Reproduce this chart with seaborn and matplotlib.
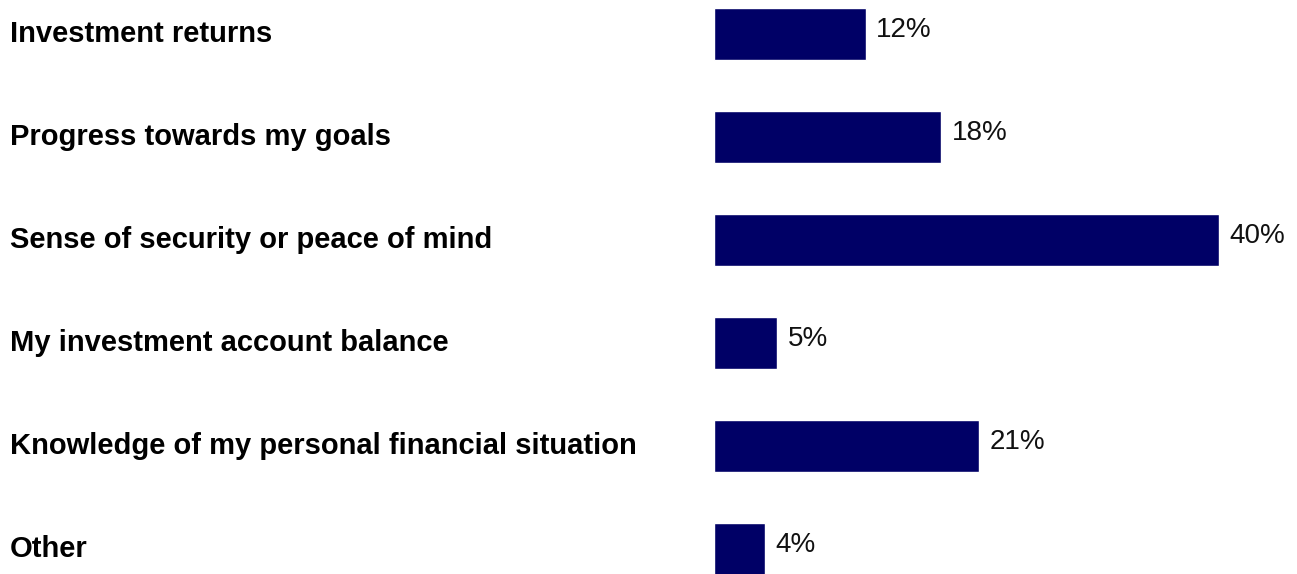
import matplotlib
matplotlib.use("Agg")
import matplotlib.pyplot as plt
import matplotlib.transforms as mtransforms
import seaborn as sns
import pandas as pd

categories = [
    "Investment returns",
    "Progress towards my goals",
    "Sense of security or peace of mind",
    "My investment account balance",
    "Knowledge of my personal financial situation",
    "Other",
]
shares = [12, 18, 40, 5, 21, 4]
value_labels = ["12%", "18%", "40%", "5%", "21%", "4%"]

sns.set_theme(style="white")
plt.rcParams["font.family"] = ["Liberation Sans", "DejaVu Sans"]

df = pd.DataFrame({"category": categories, "share": shares})

W, H = 1297, 574
fig = plt.figure(figsize=(W / 100, H / 100), dpi=100)
ax = fig.add_axes([714 / W, 0, 1 - 714 / W, 1])

sns.barplot(data=df, x="share", y="category", order=categories,
            color="#000066", saturation=1, width=0.505, ax=ax)

ax.set_xlim(0, (W - 714) / 12.625)
ax.set_ylim(5.243, -0.330)
ax.set_xlabel("")
ax.set_ylabel("")
ax.set_xticks([])
ax.set_yticks([])
for s in ax.spines.values():
    s.set_visible(False)

label_tf = mtransforms.blended_transform_factory(fig.transFigure, ax.transData)
for i, (cat, val, txt) in enumerate(zip(categories, shares, value_labels)):
    ax.text(10 / W, i, cat, transform=label_tf, ha="left", va="center",
            fontsize=21, fontweight="bold", color="black")
    ax.annotate(txt, xy=(val, i), xytext=(7.5, 3), textcoords="offset points",
                ha="left", va="center", fontsize=20, color="#111111")

fig.savefig("out.png", dpi=100)
